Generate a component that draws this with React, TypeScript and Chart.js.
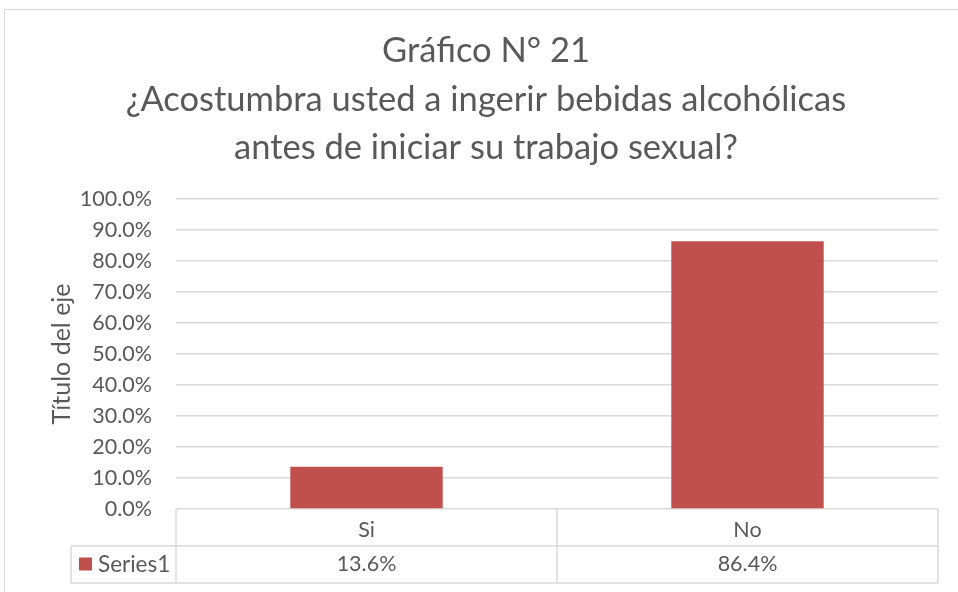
import { useEffect, useRef } from 'react';
import { Chart, registerables } from 'chart.js';

Chart.register(...registerables);

const categories: string[] = ['Si', 'No'];
const seriesName = 'Series1';
const seriesValues: number[] = [0.136, 0.864];
const titleLines: string[] = [
  'Gráfico N° 21',
  '¿Acostumbra usted a ingerir bebidas alcohólicas',
  'antes de iniciar su trabajo sexual?',
];
const yAxisTitle = 'Título del eje';
const yMin = 0;
const yMax = 1;
const yStep = 0.1;

const FONT = "Lato, 'Open Sans', sans-serif";
const TEXT = '#595959';
const LINE = '#d9d9d9';
const BAR = '#c0504d';

const fmtPct = (v: number) => (v * 100).toFixed(1) + '%';

const tablePlugin = {
  id: 'dataTable',
  beforeDraw(chart: any) {
    const { ctx } = chart;
    ctx.save();
    ctx.strokeStyle = LINE;
    ctx.lineWidth = 1;
    ctx.strokeRect(4.5, 9.5, 2000, 2000);
    // chart title (centred on the full chart object, which extends past the view)
    ctx.fillStyle = TEXT;
    ctx.font = `34.5px ${FONT}`;
    ctx.textAlign = 'center';
    ctx.textBaseline = 'middle';
    titleLines.forEach((t, i) => {
      ctx.fillText(t, 486, 51 + i * 48.5);
    });
    ctx.restore();
  },
  afterDraw(chart: any) {
    const { ctx, chartArea } = chart;
    const x = chart.scales.x;
    const top = x.top;
    const bottom = x.bottom;
    const mid = (top + bottom) / 2;
    const legendLeft = chartArea.left - 105;
    ctx.save();
    ctx.strokeStyle = LINE;
    ctx.lineWidth = 1.5;
    ctx.beginPath();
    const bounds: number[] = [chartArea.left];
    for (let i = 0; i < categories.length - 1; i++) {
      bounds.push((x.getPixelForValue(i) + x.getPixelForValue(i + 1)) / 2);
    }
    bounds.push(chartArea.right);
    bounds.forEach((bx) => {
      ctx.moveTo(bx, top);
      ctx.lineTo(bx, bottom);
    });
    ctx.moveTo(legendLeft, mid);
    ctx.lineTo(chartArea.right, mid);
    ctx.moveTo(legendLeft, bottom);
    ctx.lineTo(chartArea.right, bottom);
    ctx.moveTo(legendLeft, mid);
    ctx.lineTo(legendLeft, bottom);
    ctx.stroke();

    const rowMid = (mid + bottom) / 2;
    ctx.fillStyle = BAR;
    ctx.fillRect(legendLeft + 8, rowMid - 7, 13, 13);
    ctx.fillStyle = TEXT;
    ctx.font = `22.5px ${FONT}`;
    ctx.textBaseline = 'middle';
    ctx.textAlign = 'left';
    ctx.fillText(seriesName, legendLeft + 27, rowMid);
    ctx.font = `21.5px ${FONT}`;
    ctx.textAlign = 'center';
    seriesValues.forEach((v, i) => {
      ctx.fillText(fmtPct(v), x.getPixelForValue(i), rowMid);
    });
    ctx.restore();
  },
};

export default function App() {
  const ref = useRef<HTMLCanvasElement | null>(null);
  useEffect(() => {
    if (!ref.current) return;
    const chart = new Chart(ref.current, {
      type: 'bar',
      data: {
        labels: categories,
        datasets: [
          {
            label: seriesName,
            data: seriesValues,
            backgroundColor: BAR,
            barPercentage: 0.4,
            categoryPercentage: 1,
          },
        ],
      },
      options: {
        responsive: false,
        animation: false,
        layout: { padding: { top: 199, right: 20, bottom: 9, left: 0 } },
        plugins: {
          legend: { display: false },
          tooltip: { enabled: false },
          title: { display: false },
        },
        scales: {
          x: {
            grid: { display: false, drawTicks: false },
            border: { display: false },
            ticks: { color: TEXT, font: { family: FONT, size: 21.5 }, padding: 8 },
            afterFit(scale: any) {
              scale.height = 74;
            },
          },
          y: {
            min: yMin,
            max: yMax,
            grid: { color: LINE, lineWidth: 1.5, drawTicks: false },
            border: { display: false },
            ticks: {
              stepSize: yStep,
              color: TEXT,
              padding: 24,
              font: { family: FONT, size: 21.5 },
              callback: (v: any) => fmtPct(Number(v)),
            },
            title: {
              display: true,
              text: yAxisTitle,
              color: TEXT,
              font: { family: FONT, size: 25, weight: 'normal' },
              padding: { top: 47, bottom: 0 },
            },
            afterFit(scale: any) {
              scale.width = 176;
            },
          },
        },
      },
      plugins: [tablePlugin],
    });
    return () => chart.destroy();
  }, []);
  return (
    <div style={{ position: 'fixed', left: 0, top: 0, width: 958, height: 592, background: '#fff' }}>
      <canvas ref={ref} width={958} height={592} />
    </div>
  );
}
